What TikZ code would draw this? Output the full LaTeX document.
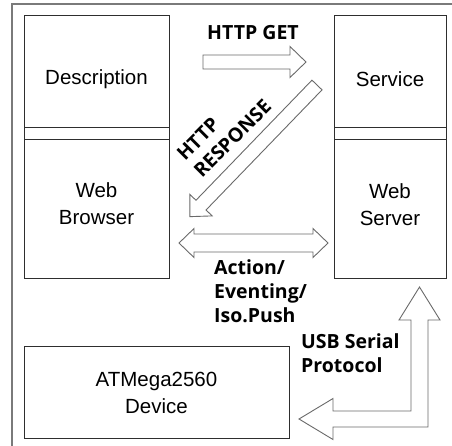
\documentclass[tikz,border=0pt]{standalone}
\usepackage{fontspec}
\setmainfont{Liberation Sans}
\newfontfamily\lblfont{Open Sans}
\usepackage{xcolor}
\usetikzlibrary{positioning}
\definecolor{boxGray}{HTML}{2E2E2E}
\definecolor{frameGray}{HTML}{7A7A7A}
\definecolor{arrGray}{HTML}{6A6A6A}

\begin{document}
\begin{tikzpicture}[x=1pt, y=-1pt,
  font=\fontsize{20.5}{27}\selectfont,
  box/.style={draw=boxGray,line width=1pt,inner sep=0pt},
  boxtxt/.style={align=center,inner sep=0pt},
  blk/.style={draw=arrGray,line width=0.9pt,fill=white,line join=miter},
  lbl/.style={font=\lblfont\bfseries\fontsize{19.5}{24}\selectfont,align=left,inner sep=0pt}]
\clip (0,0) rectangle (452,445);
% --- outer frame (cut at right and bottom) ---
\draw[frameGray,line width=1.6pt] (12,4) rectangle (480,480);
% --- browser side ---
\node[box,minimum width=145pt,minimum height=112pt] (desc) at (96.5,71) {};
\node[box,minimum width=145pt,minimum height=12pt] (descGap) at (96.5,133) {};
\node[box,minimum width=145pt,minimum height=139pt] (browser) at (96.5,208.5) {};
\node[boxtxt] (descTxt) at (96.5,79) {Description};
\node[boxtxt] (browserTxt) at (96.5,204) {Web\\Browser};
% --- server side ---
\node[box,minimum width=112pt,minimum height=112pt] (service) at (390,71) {};
\node[box,minimum width=112pt,minimum height=12pt] (serviceGap) at (390,133) {};
\node[box,minimum width=112pt,minimum height=139pt] (server) at (390,208.5) {};
\node[boxtxt] (serviceTxt) at (390,79) {Service};
\node[boxtxt] (serverTxt) at (390,205) {Web\\Server};
% --- device ---
\node[box,minimum width=265pt,minimum height=92pt] (device) at (156.5,392) {};
\node[boxtxt] (deviceTxt) at (156.5,393) {ATMega2560\\Device};
% --- block arrows ---
\draw[blk] (203,55) -- (290,55) -- (290,46.5) -- (306,62) -- (290,77.5)
  -- (290,69) -- (203,69) -- cycle;
\begin{scope}[shift={(317,85)},rotate=226]
  \draw[blk] (0,-7) -- (167,-7) -- (167,-15.5) -- (183,0) -- (167,15.5)
    -- (167,7) -- (0,7) -- cycle;
\end{scope}
\draw[blk] (179,243) -- (194,228.5) -- (194,234) -- (313,234) -- (313,228.5)
  -- (328,243) -- (313,257.5) -- (313,252) -- (194,252) -- (194,257.5) -- cycle;
\draw[blk] (419.5,287) -- (440,320) -- (428,320) -- (428,427) -- (333,427)
  -- (333,439.5) -- (299,419) -- (333,398.5) -- (333,411) -- (411,411)
  -- (411,320) -- (399,320) -- cycle;
% --- labels ---
\node[lbl] (getLbl) at (253,33) {HTTP GET};
\node[lbl,rotate=45] (respLbl) at (224,130) {HTTP\\RESPONSE};
\node[lbl,anchor=west] (actLbl) at (214,291) {Action/\\Eventing/\\Iso.Push};
\node[lbl,anchor=west] (usbLbl) at (301,353.5) {USB Serial\\Protocol};
\end{tikzpicture}
\end{document}
